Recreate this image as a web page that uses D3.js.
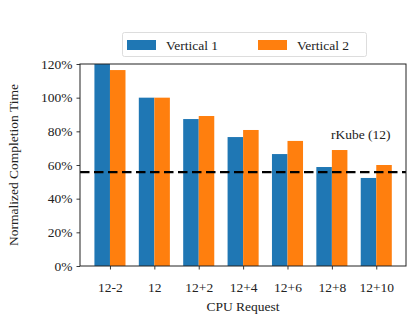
<!DOCTYPE html>
<html><head><meta charset="utf-8">
<script src="https://cdn.jsdelivr.net/npm/d3@7"></script>
<style>body{margin:0;background:#fff}svg{display:block}svg text{font-family:"Liberation Serif","Times New Roman",serif !important;fill:#222}</style>
</head><body><svg id="c" width="408" height="320"></svg>
<script>
const categories = ["12-2","12","12+2","12+4","12+6","12+8","12+10"];
const vertical1 = [121, 100, 87.3, 76.6, 66.5, 58.8, 52.3];
const vertical2 = [116.4, 100, 89.1, 80.8, 74.3, 68.9, 60.0];
const seriesNames = ["Vertical 1","Vertical 2"];
const colors = ["#1f77b4","#ff7f0e"];
const yTicks = [0,20,40,60,80,100,120];
const rkube = 55.8;
const rkubeLabel = "rKube (12)";

const FS = 13.5;
const svg = d3.select("#c");
const m = {l:80, r:406, t:64, b:266};
const x = d3.scaleLinear().domain([-0.675, 6.67]).range([m.l, m.r]);
const y = d3.scaleLinear().domain([0,120]).range([m.b, m.t]);
const bw = 0.35;

svg.append("defs").append("clipPath").attr("id","clip").append("rect")
  .attr("x",m.l).attr("y",m.t).attr("width",m.r-m.l).attr("height",m.b-m.t);

const g = svg.append("g").attr("clip-path","url(#clip)");
[vertical1, vertical2].forEach((vals, s) => {
  g.selectAll(".b"+s).data(vals).enter().append("rect")
    .attr("x",(d,i)=>x(i + (s===0 ? -bw : 0)))
    .attr("width",x(bw)-x(0))
    .attr("y",d=>y(d))
    .attr("height",d=>y(0)-y(d))
    .attr("fill",colors[s]);
});

svg.append("line").attr("x1",m.l).attr("x2",m.r).attr("y1",y(rkube)).attr("y2",y(rkube))
  .attr("stroke","#000").attr("stroke-width",2.2).attr("stroke-dasharray","9.5,4.5");
svg.append("text").attr("x",x(5.65)).attr("y",y(75.5)).attr("text-anchor","middle")
  .attr("font-size",FS).text(rkubeLabel);

// axes
const yAxis = d3.axisLeft(y).tickValues(yTicks).tickFormat(d=>d+"%").tickSize(3.5).tickPadding(4);
const ya = svg.append("g").attr("transform",`translate(${m.l},0)`).call(yAxis);
const xAxis = d3.axisBottom(x).tickValues(d3.range(categories.length)).tickFormat(i=>categories[i]).tickSize(3.5).tickPadding(13);
const xa = svg.append("g").attr("transform",`translate(0,${m.b})`).call(xAxis);
[ya,xa].forEach(a=>{
  a.attr("font-family",null);
  a.select(".domain").remove();
  a.selectAll(".tick line").attr("stroke","#222").attr("stroke-width",0.9);
  a.selectAll(".tick text").attr("font-size",FS).attr("fill","#222");
});
svg.append("rect").attr("x",m.l).attr("y",m.t).attr("width",m.r-m.l).attr("height",m.b-m.t)
  .attr("fill","none").attr("stroke","#222").attr("stroke-width",1);

svg.append("text").attr("transform",`translate(18,${(m.t+m.b)/2}) rotate(-90)`)
  .attr("text-anchor","middle").attr("font-size",FS).text("Normalized Completion Time");
svg.append("text").attr("x",(m.l+m.r)/2).attr("y",311).attr("text-anchor","middle")
  .attr("font-size",FS).text("CPU Request");

// legend
const lg = svg.append("g");
lg.append("rect").attr("x",122.5).attr("y",32.5).attr("width",244).attr("height",24).attr("rx",2)
  .attr("fill","#fff").attr("stroke","#ddd").attr("stroke-width",1);
const lx = [127, 258];
seriesNames.forEach((n,s)=>{
  lg.append("rect").attr("x",lx[s]).attr("y",40).attr("width",29).attr("height",10).attr("fill",colors[s]);
  lg.append("text").attr("x",lx[s]+39).attr("y",49.5).attr("font-size",FS).text(n);
});
</script></body></html>
